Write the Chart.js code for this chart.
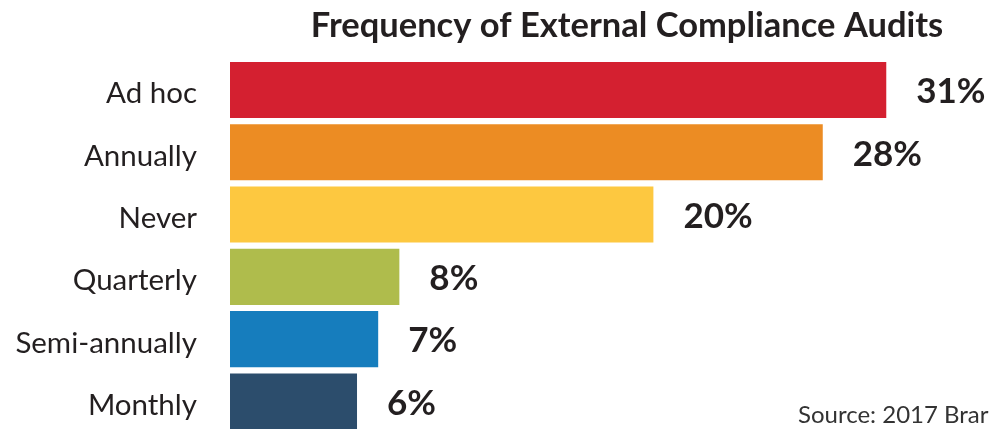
<!DOCTYPE html>
<html lang="en">
<head>
    <meta charset="UTF-8">
    <title>Frequency of External Compliance Audits</title>
    <script src="https://cdn.jsdelivr.net/npm/chart.js"></script>
    <style>
        html, body {
            margin: 0;
            padding: 0;
            background: #fff;
            overflow: hidden;
        }
        #wrap {
            width: 990px;
            height: 436px;
        }
    </style>
</head>
<body>
    <div id="wrap"><canvas id="auditChart"></canvas></div>

    <script>
        // datos del grafico
        const categories = ['Ad hoc', 'Annually', 'Never', 'Quarterly', 'Semi-annually', 'Monthly'];
        const percentages = [31, 28, 20, 8, 7, 6];
        const barColors = ['#D42030', '#EC8C23', '#FDC840', '#AFBC4C', '#167DBD', '#2C4D6C'];
        const chartTitle = 'Frequency of External Compliance Audits';
        const sourceNote = 'Source: 2017 Brar';

        const FONT = 'Lato, "Open Sans", sans-serif';

        // titulo, etiquetas de valor y fuente
        const extrasPlugin = {
            id: 'extras',
            afterDatasetsDraw(chart) {
                const ctx = chart.ctx;
                const meta = chart.getDatasetMeta(0);
                ctx.save();
                ctx.fillStyle = '#231F20';
                ctx.textBaseline = 'middle';
                ctx.textAlign = 'left';
                ctx.font = 'bold 35px ' + FONT;
                meta.data.forEach((bar, i) => {
                    ctx.fillText(percentages[i] + '%', bar.x + 30, bar.y + 2);
                });

                ctx.textAlign = 'center';
                ctx.textBaseline = 'alphabetic';
                ctx.font = 'bold 34.5px ' + FONT;
                ctx.fillText(chartTitle, 627, 37);

                ctx.textAlign = 'left';
                ctx.font = '24px ' + FONT;
                ctx.fillStyle = '#333';
                ctx.fillText(sourceNote, 798, 423);
                ctx.restore();
            }
        };

        const ctx = document.getElementById('auditChart').getContext('2d');
        const auditChart = new Chart(ctx, {
            type: 'bar',
            data: {
                labels: categories,
                datasets: [{
                    data: percentages,
                    backgroundColor: barColors,
                    borderWidth: 0,
                    barPercentage: 0.9,
                    categoryPercentage: 1.0
                }]
            },
            options: {
                indexAxis: 'y',
                responsive: true,
                maintainAspectRatio: false,
                animation: false,
                layout: {
                    padding: { top: 58.8, bottom: 3.4, left: 0, right: 0 }
                },
                plugins: {
                    legend: { display: false },
                    title: { display: false },
                    tooltip: { enabled: false }
                },
                scales: {
                    x: {
                        display: false,
                        min: 0,
                        max: 35.9
                    },
                    y: {
                        border: { display: false },
                        grid: { display: false, drawTicks: false },
                        ticks: {
                            color: '#231F20',
                            padding: 33,
                            labelOffset: 4,
                            font: { family: FONT, size: 29.5 }
                        },
                        afterFit(scale) {
                            scale.width = 230;
                            scale.paddingTop = 0;
                            scale.paddingBottom = 0;
                        }
                    }
                }
            },
            plugins: [extrasPlugin]
        });
    </script>
</body>
</html>
